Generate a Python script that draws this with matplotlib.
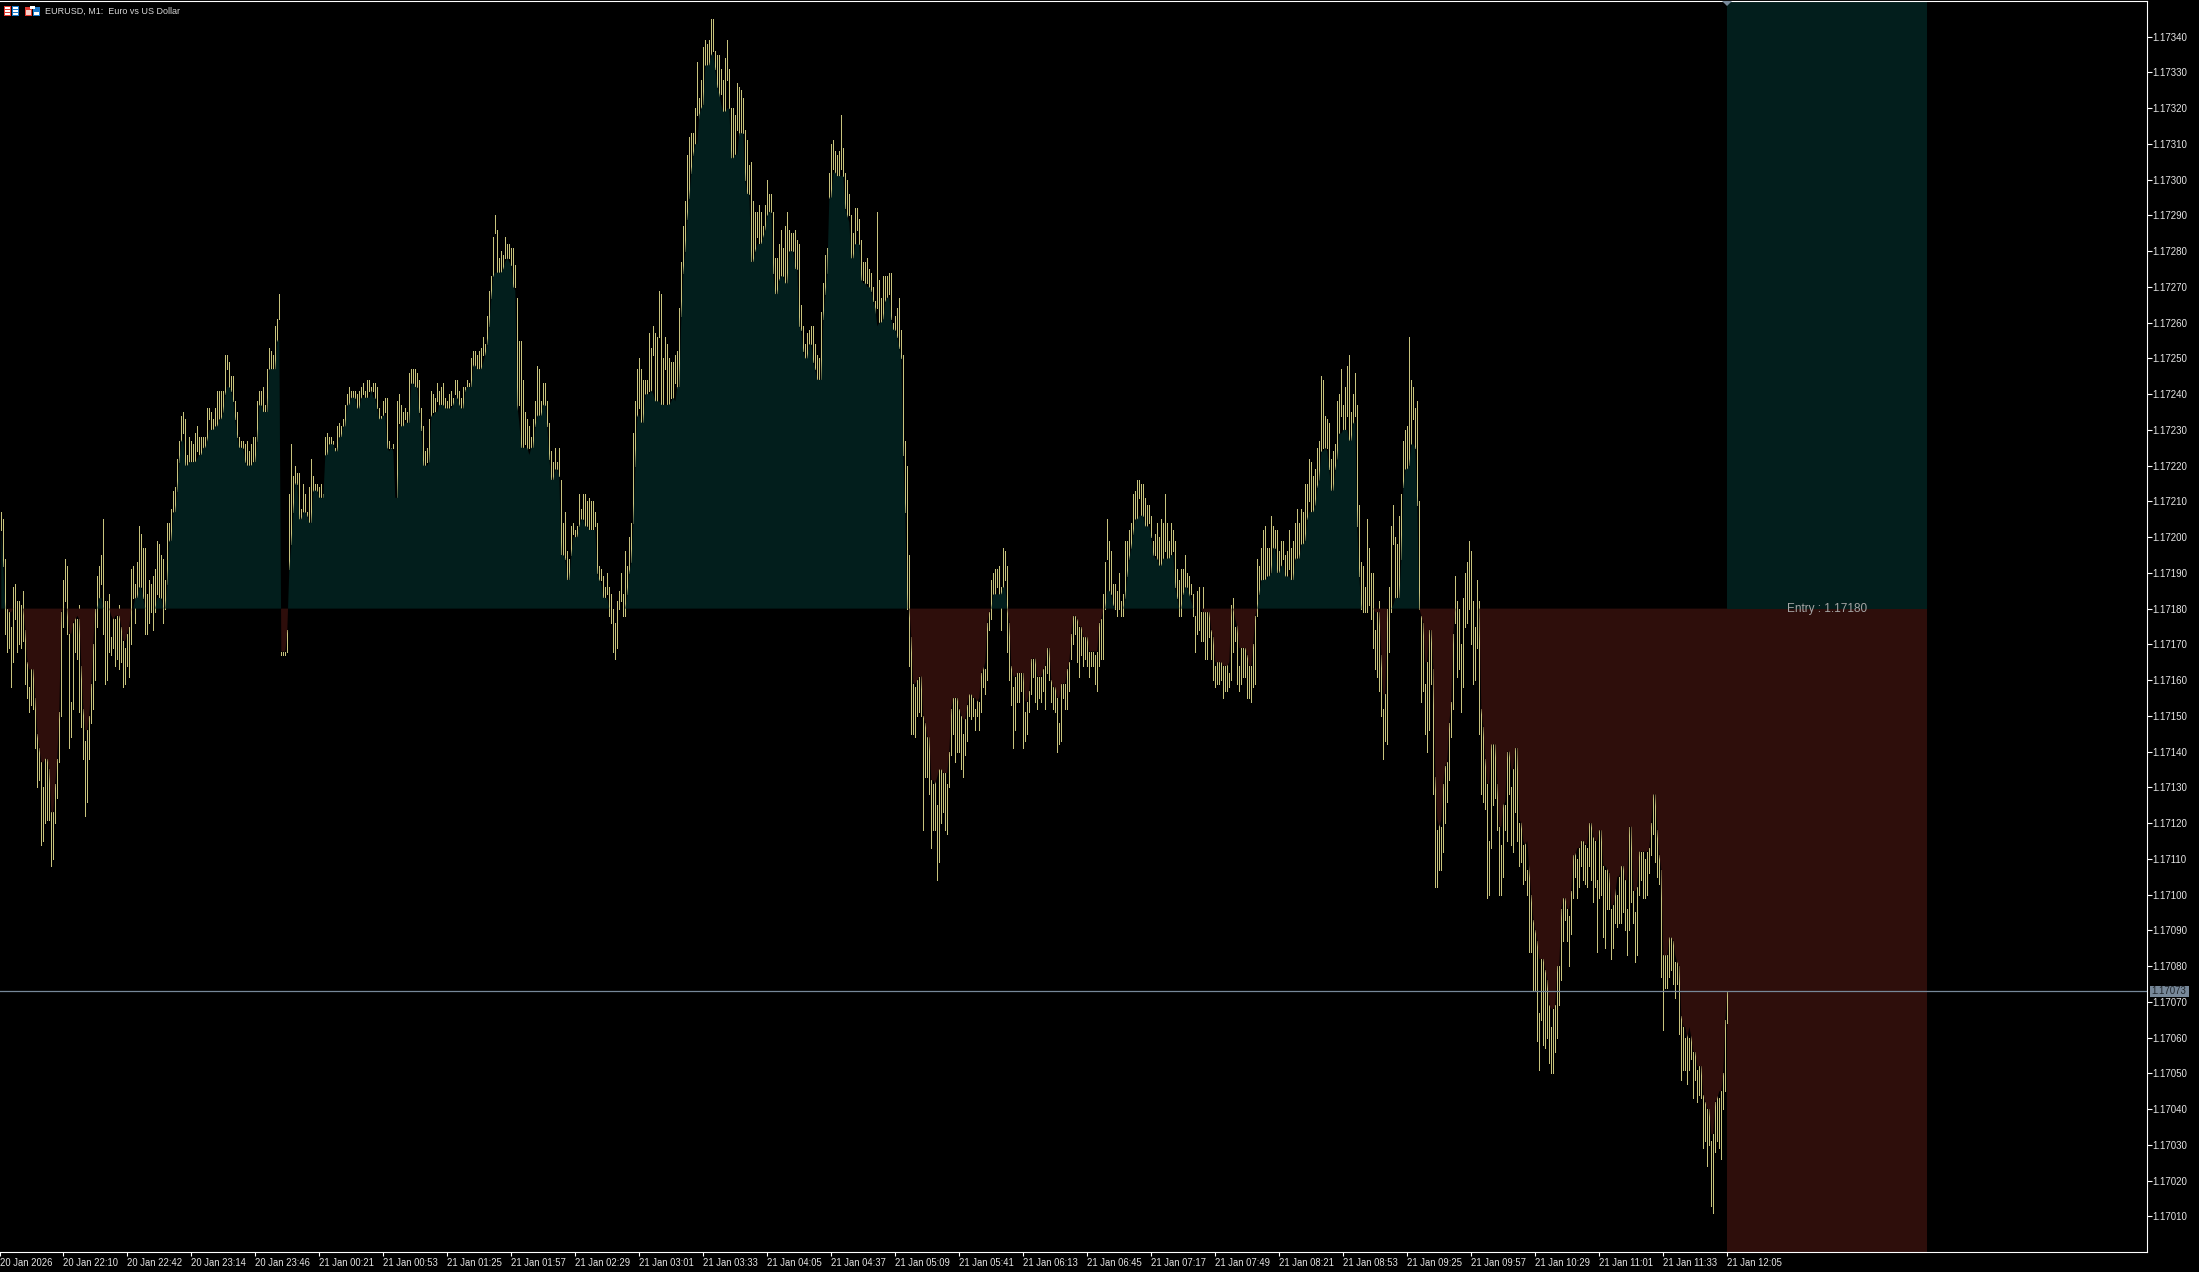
import numpy as np
import matplotlib
matplotlib.use("Agg")
import matplotlib.pyplot as plt
from matplotlib.patches import Rectangle, Polygon
from matplotlib.transforms import Affine2D

BASE = 1.17
ENTRY = 1.17180
LAST = 1.17073
# bar highs and lows, as 0.00001 steps above 1.17000
highs_pts = [
207,205,194,180,179,175,186,187,182,182, 181,185,174,165,158,163,163,155,145,141,
137,130,139,138,135,123,123,131,138,151, 179,188,194,192,173,154,176,178,177,181,
164,152,143,146,150,159,170,180,189,192, 195,205,182,182,184,172,178,177,178,181,
175,171,169,173,175,191,192,187,193,203, 201,197,197,184,188,187,189,191,199,198,
195,194,188,204,204,208,213,214,222,227, 234,235,233,223,228,227,226,229,231,228,
228,228,228,236,236,235,233,236,241,241, 241,241,251,251,249,245,245,238,235,228,
227,227,226,227,224,226,228,228,238,241, 241,242,237,247,253,252,251,259,261,268,
168,168,168,174,212,226,217,220,218,218, 208,215,212,207,214,222,217,215,215,214,
215,212,228,229,228,228,227,225,231,232, 231,233,237,240,242,241,241,241,240,241,
242,243,241,244,244,242,243,243,242,236, 234,238,239,239,227,225,226,211,238,240,
237,235,236,235,246,247,247,247,246,244, 236,231,224,225,233,241,240,239,243,241,
242,243,239,238,240,241,239,244,244,241, 239,242,242,244,243,250,252,252,251,252,
253,256,254,262,269,273,284,290,286,278, 280,279,284,282,282,281,281,276,267,255,
255,244,235,233,231,228,233,238,248,247, 238,243,243,238,232,224,221,225,221,225,
216,204,207,196,194,203,204,202,203,212, 208,212,212,210,211,210,210,207,204,192,
191,189,186,190,186,184,180,176,182,185, 190,184,196,192,200,204,229,238,247,250,
247,244,244,244,257,253,259,257,256,269, 268,250,256,254,250,249,249,251,252,264,
277,287,294,307,312,313,313,320,333,323, 328,337,339,338,339,345,345,336,335,335,
331,328,334,339,331,320,320,318,327,326, 325,323,314,311,304,305,294,291,291,293,
291,287,293,300,296,296,291,278,278,282, 286,281,287,291,286,285,285,286,283,282,
265,259,254,257,258,259,259,254,251,250, 263,271,279,281,302,310,311,308,307,308,
318,309,302,300,296,290,285,292,292,289, 283,277,277,278,275,274,270,266,291,272,
267,273,273,273,274,274,260,262,264,267, 258,251,227,220,195,172,159,158,160,161,
166,150,148,144,144,132,131,133,125,138, 135,134,134,131,140,152,155,155,157,152,
150,145,149,153,156,158,155,152,155,154, 162,165,163,176,179,188,190,191,191,192,
186,197,196,192,176,164,158,161,163,162, 162,162,151,154,157,166,166,168,161,161,
161,163,164,169,169,160,158,158,155,148, 159,159,159,163,165,173,178,178,177,175,
175,172,172,173,168,168,168,167,168,176, 177,184,193,205,199,196,187,187,185,190,
182,184,199,199,202,204,212,213,216,216, 215,215,211,209,209,206,199,201,204,200,
205,204,212,204,199,204,202,199,191,188, 191,191,195,190,189,187,184,178,185,186,
179,186,179,179,179,174,172,164,165,165, 168,164,164,165,162,181,183,175,177,164,
169,169,169,167,164,164,170,178,194,192, 197,202,203,197,197,206,203,202,202,196,
199,199,195,196,202,197,199,204,208,204, 208,207,215,215,222,221,217,219,225,227,
245,244,234,233,232,222,224,226,238,240, 247,237,242,248,251,235,240,246,237,209,
193,192,186,205,197,190,190,174,179,182, 167,152,156,180,186,203,209,200,198,206,
212,227,230,231,256,244,242,236,238,210, 178,176,159,165,174,174,163,133,118,121,
119,131,136,137,148,154,173,189,182,180, 170,183,190,193,199,196,182,175,188,182,
152,147,138,131,115,143,142,142,131,119, 114,126,125,140,142,130,135,141,143,120,
121,114,115,107,115,100,93,90,87,67, 82,84,79,76,69,63,68,69,80,80,
96,99,109,96,94,101,111,117,110,113, 118,115,114,113,125,120,116,115,104,118,
123,108,107,116,106,96,97,106,100,105, 111,108,104,96,119,123,101,95,102,114,
112,112,110,112,113,120,129,128,118,111, 107,83,83,83,88,88,87,81,83,80,
66,63,60,63,60,66,56,56,51,52, 52,44,42,40,40,31,33,42,47,43,
45,50,65,73]
lows_pts = [
202,192,173,168,169,158,165,177,168,170, 169,171,159,155,151,153,152,141,130,132,
114,115,120,121,121,108,110,120,127,137, 150,175,182,173,141,144,152,168,166,151,
147,138,122,126,138,148,152,160,175,183, 187,173,159,160,168,167,169,164,166,163,
165,158,159,164,161,170,183,176,183,186, 186,183,173,173,176,179,174,179,184,183,
183,176,180,187,199,199,207,207,213,221, 227,229,220,219,221,221,221,221,224,222,
223,225,225,227,233,230,229,231,231,233, 233,235,240,247,242,241,238,233,228,224,
225,225,221,220,220,219,221,221,227,237, 237,235,235,235,247,247,247,247,255,261,
167,167,167,168,191,198,207,215,215,205, 204,207,207,206,204,201,213,213,213,204,
211,211,223,223,226,226,226,223,224,228, 228,231,231,237,237,239,239,239,236,235,
239,240,239,239,241,239,241,239,236,233, 233,234,235,215,225,224,225,195,211,232,
231,231,233,232,229,243,243,242,242,235, 230,217,220,221,220,234,235,233,238,235,
237,237,236,236,236,237,236,240,239,237, 236,235,241,242,242,242,248,248,246,247,
247,251,249,254,259,267,273,285,274,274, 271,275,278,277,278,276,269,270,232,237,
225,225,226,220,225,223,225,231,234,234, 234,237,237,231,222,215,216,219,219,217,
195,195,194,187,188,195,201,200,199,203, 205,205,203,203,202,202,202,203,190,187,
188,183,183,184,178,176,168,166,169,180, 182,178,178,184,190,193,204,220,234,236,
232,232,240,240,241,240,251,238,238,256, 237,226,247,237,233,239,238,243,238,242,
262,274,280,289,295,302,307,310,318,308, 320,321,332,332,332,335,336,331,326,321,
324,319,318,328,320,301,306,307,314,307, 313,313,300,296,296,276,277,280,284,282,
282,284,286,290,291,291,274,268,267,272, 273,273,271,271,280,280,280,275,275,259,
258,252,249,250,254,254,249,247,244,244, 243,261,268,274,295,295,303,302,300,301,
303,301,292,288,290,278,277,282,286,282, 271,272,268,271,270,269,266,259,264,258,
260,261,266,267,268,261,258,258,256,253, 250,223,207,180,164,145,145,144,150,151,
150,118,133,133,128,113,118,118,104,109, 120,123,118,117,130,139,145,137,140,140,
135,133,139,143,150,149,150,146,150,146, 151,158,156,160,174,177,184,184,186,184,
174,186,188,168,160,153,141,146,154,154, 157,141,143,145,151,156,161,154,152,155,
154,157,152,162,160,154,152,151,140,142, 143,155,152,152,157,166,170,173,165,161,
167,164,166,164,161,164,164,159,157,164, 166,166,180,194,185,184,181,180,178,180,
178,178,183,189,194,197,201,205,205,211, 206,206,200,203,204,200,189,195,194,190,
192,194,196,194,190,195,196,186,183,178, 178,184,186,186,182,184,178,168,173,174,
171,171,166,166,172,166,160,158,159,159, 160,155,157,157,158,160,168,171,159,157,
159,161,161,155,155,154,158,159,178,184, 188,188,187,189,189,190,197,197,190,187,
192,194,189,189,191,184,188,194,194,194, 198,198,199,205,210,207,205,209,214,216,
224,225,224,225,219,213,212,219,222,229, 234,229,230,234,225,227,232,234,203,189,
180,179,179,179,181,177,169,163,161,157, 150,138,143,142,168,179,198,181,183,183,
194,214,219,219,220,226,233,225,209,180, 154,157,145,140,146,159,128,102,102,107,
107,112,120,126,132,144,152,176,161,163, 151,158,175,176,180,170,159,160,169,145,
128,126,124,99,100,113,125,127,118,100, 100,105,118,115,128,114,112,123,115,108,
109,103,104,100,84,84,73,73,59,51, 65,58,57,60,53,50,50,56,60,69,
76,87,93,87,80,89,99,105,99,102, 108,104,103,102,108,104,98,102,84,99,
100,88,85,96,96,82,85,92,91,92, 92,95,90,83,90,98,92,81,83,100,
104,99,99,100,106,111,117,109,105,103, 77,62,74,74,77,79,75,71,75,61,
48,51,51,47,51,54,43,48,42,44, 43,29,31,24,30,13,11,28,31,29,
26,40,45,64]
x_tick_labels = ["20 Jan 2026","20 Jan 22:10","20 Jan 22:42","20 Jan 23:14","20 Jan 23:46",
"21 Jan 00:21","21 Jan 00:53","21 Jan 01:25","21 Jan 01:57","21 Jan 02:29","21 Jan 03:01",
"21 Jan 03:33","21 Jan 04:05","21 Jan 04:37","21 Jan 05:09","21 Jan 05:41","21 Jan 06:13",
"21 Jan 06:45","21 Jan 07:17","21 Jan 07:49","21 Jan 08:21","21 Jan 08:53","21 Jan 09:25",
"21 Jan 09:57","21 Jan 10:29","21 Jan 11:01","21 Jan 11:33","21 Jan 12:05"]
y_tick_pts = list(range(10, 350, 10))
last_bar = len(highs_pts)
zone_bars = 100            # the position box runs on this many bars past the last one

W, H = 2199, 1272
BG, WHITE = "#000000", "#ffffff"
BAR = "#c8c37d"; GREEN = "#021e1c"; RED = "#2e0e0b"; SLATE = "#778899"; TXT = "#e6e6e6"
FONT = "Liberation Sans"
plt.rcParams["font.family"] = [FONT, "DejaVu Sans"]

fig = plt.figure(figsize=(W / 100, H / 100), dpi=100, facecolor=BG)
ax = fig.add_axes([0, (H - 1252) / H, 2147 / W, 1251 / H], facecolor=BG)

hi = BASE + np.array(highs_pts) / 1e5
lo = BASE + np.array(lows_pts) / 1e5
x = np.arange(1, len(hi) + 1)

# the shaded area stops at the inner end of each bar
edge = np.where(lo > ENTRY, lo, np.where(hi < ENTRY, hi, ENTRY))
med = edge.copy()
med[1:-1] = np.median(np.stack([edge[:-2], edge[1:-1], edge[2:]]), axis=0)

zone = [last_bar, last_bar + zone_bars]
ax.fill_between(zone, ENTRY, BASE + 350 / 1e5, color=GREEN, lw=0, zorder=1)
ax.fill_between(zone, ENTRY, BASE, color=RED, lw=0, zorder=1)
ax.vlines(x, lo, hi, colors=BAR, linewidth=0.72, antialiased=False, zorder=2)
ax.fill_between(x, ENTRY, med, where=med >= ENTRY, color=GREEN, lw=0, interpolate=True, zorder=3)
ax.fill_between(x, ENTRY, med, where=med <= ENTRY, color=RED, lw=0, interpolate=True, zorder=3)
ax.axhline(LAST, color=SLATE, lw=0.9, zorder=4)
ax.text(last_bar + zone_bars / 2, ENTRY, "Entry : 1.17180", color="#a6a6a6", fontsize=8.5,
        ha="center", va="center", zorder=5)

ax.set_xlim(0.335, 0.335 + 2147 / 2)
ax.set_ylim(BASE, BASE + 350 / 1e5)
ticks = [0.335] + list(range(32, last_bar + 1, 32))
ax.set_xticks(ticks)
ax.set_xticklabels(x_tick_labels, ha="left", color=TXT, fontsize=6.85)
ax.set_yticks([BASE + v / 1e5 for v in y_tick_pts])
ax.set_yticklabels([f"{BASE + v / 1e5:.5f}" for v in y_tick_pts], color=TXT, fontsize=7)
ax.yaxis.tick_right()
ax.tick_params(axis="x", length=3, width=0.8, color=WHITE, pad=1.5)
ax.tick_params(axis="y", length=3.4, width=0.8, color=WHITE, pad=0.4)
for s in ("left",):
    ax.spines[s].set_visible(False)
for s in ("top", "right", "bottom"):
    ax.spines[s].set_color(WHITE)
    ax.spines[s].set_linewidth(0.8)

# screen-pixel helper for the window furniture
px = Affine2D().scale(1, -1).translate(0, H)
def box(x0, y0, w, h, c):
    fig.add_artist(Rectangle((x0, y0), w, h, transform=px, facecolor=c, edgecolor="none"))

# header icons
box(4, 6, 7, 10, "#e03a30"); box(5, 7, 5, 8, "#ffffff")
box(12, 6, 7, 10, "#1a78c8"); box(13, 7, 5, 8, "#ffffff")
for yy in (9, 12):
    box(5, yy, 5, 1, "#e03a30"); box(13, yy, 5, 1, "#1a78c8")
box(25, 7, 7, 9, "#e03a30"); box(26, 10, 5, 5, "#f8d0c8")
box(33, 7, 7, 9, "#1a78c8"); box(34, 12, 5, 3, "#ffffff")
box(30, 6, 5, 3, "#ffffff")
fig.text(45 / W, 1 - 11.7 / H, "EURUSD, M1:  Euro vs US Dollar", color="#d8d8d8",
         fontsize=6.5, va="center", ha="left")

# current-price tag and last-bar marker
box(2150, 986, 38.5, 11, SLATE)
fig.text(2169 / W, 1 - 991.5 / H, "1.17073", color="#20262c", fontsize=7, ha="center", va="center")
fig.add_artist(Polygon([(1722, 1), (1732, 1), (1727, 6)], transform=px, facecolor=SLATE, edgecolor="none"))

fig.savefig("out.png", dpi=100, facecolor=BG)
